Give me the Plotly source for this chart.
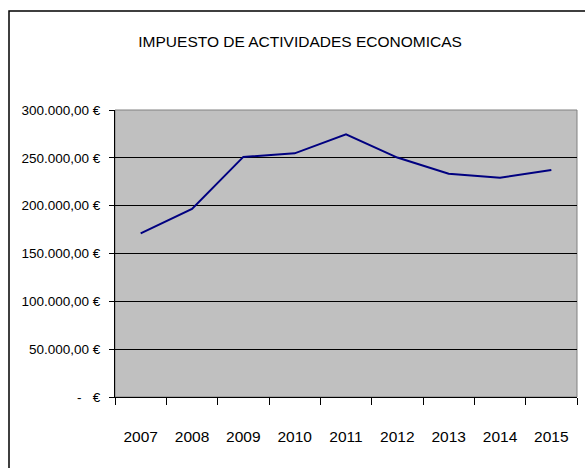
import plotly.graph_objects as go

years = ["2007", "2008", "2009", "2010", "2011", "2012", "2013", "2014", "2015"]
values = [171000, 196500, 251000, 254700, 274600, 250300, 233400, 229200, 237300]
y_tickvals = [0, 50000, 100000, 150000, 200000, 250000, 300000]
y_ticktext = ["-   €", "50.000,00 €", "100.000,00 €", "150.000,00 €",
              "200.000,00 €", "250.000,00 €", "300.000,00 €"]
title_text = "IMPUESTO DE ACTIVIDADES ECONOMICAS"

FONT = "Liberation Sans, Arial, sans-serif"

fig = go.Figure()
fig.add_trace(go.Scatter(
    x=years, y=values, mode="lines",
    line=dict(color="#000080", width=2),
    hoverinfo="x+y",
))

fig.update_layout(
    width=585, height=468,
    margin=dict(l=115, r=8, t=110, b=71, autoexpand=False),
    paper_bgcolor="white",
    plot_bgcolor="#C0C0C0",
    showlegend=False,
    font=dict(family=FONT, color="black", size=14),
    title=dict(text=title_text, x=0.513, xanchor="center",
               y=1 - 42 / 468, yanchor="middle", automargin=False,
               font=dict(family=FONT, size=15.5, color="black")),
    xaxis=dict(
        type="category", range=[-0.5, 8.5], automargin=False,
        showgrid=False, showline=True, linecolor="black", linewidth=1,
        ticks="outside", tickson="boundaries", ticklen=7, tickcolor="black",
        ticklabelstandoff=25, tickfont=dict(size=15.5),
        zeroline=False,
    ),
    yaxis=dict(
        range=[0, 300000], tickvals=y_tickvals, ticktext=y_ticktext,
        automargin=False,
        showgrid=True, gridcolor="black", gridwidth=1,
        showline=True, linecolor="black", linewidth=1,
        ticks="outside", ticklen=5, tickcolor="black",
        ticklabelstandoff=6, tickfont=dict(size=13.5),
        zeroline=False,
    ),
    shapes=[
        dict(type="rect", xref="paper", yref="paper", x0=0, x1=1, y0=0, y1=1,
             line=dict(color="#808080", width=1), layer="below"),
        dict(type="rect", xref="paper", yref="paper",
             x0=(9 - 115) / 462, x1=(600 - 115) / 462,
             y0=(397 - 480) / 287, y1=(397 - 11) / 287,
             line=dict(color="black", width=1.5), fillcolor="rgba(0,0,0,0)"),
    ],
)

fig.write_html("out.html", config={"displayModeBar": False},
               post_script="document.body.style.margin='0';")
